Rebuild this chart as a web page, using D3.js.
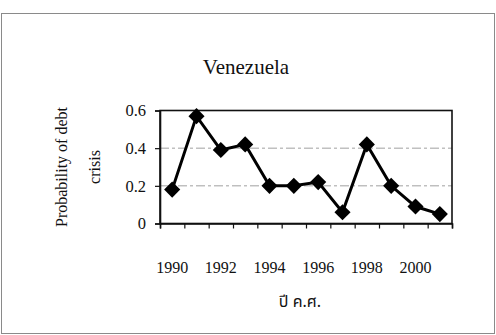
<!DOCTYPE html>
<html>
<head>
<meta charset="utf-8">
<script src="https://cdn.jsdelivr.net/npm/d3@7"></script>
<style>
html,body{margin:0;padding:0;background:#fff;}
svg{display:block;}
</style>
</head>
<body>
<svg id="chart" width="496" height="335"></svg>
<script>
// ---- data ----
const years = [1990, 1991, 1992, 1993, 1994, 1995, 1996, 1997, 1998, 1999, 2000, 2001];
const probability = [0.18, 0.57, 0.39, 0.42, 0.20, 0.20, 0.22, 0.06, 0.42, 0.20, 0.09, 0.05];
const yTicks = [0, 0.2, 0.4, 0.6];
const yGrid = [0.2, 0.4];
const xTickLabels = ["1990", "1992", "1994", "1996", "1998", "2000"];
const title = "Venezuela";
const yTitleLines = ["Probability of debt", "crisis"];
const xTitle = "ปี ค.ศ.";

// ---- layout ----
const svg = d3.select("#chart");
const W = 496, H = 335;
const plot = {left: 160, right: 452, top: 110.5, bottom: 223.5};
const serif = "'Liberation Serif','Times New Roman',Times,serif";
const thai = "'Noto Sans Thai','Tahoma','Noto Sans','DejaVu Sans',sans-serif";

svg.append("rect").attr("width", W).attr("height", H).attr("fill", "#fff");

// outer frame
svg.append("rect").attr("x", 1.5).attr("y", 13.5).attr("width", 493).attr("height", 320)
  .attr("fill", "none").attr("stroke", "#8a8a8a").attr("stroke-width", 1);

// scales
const x = d3.scaleBand().domain(years).range([plot.left, plot.right]).padding(0);
const xEdge = d3.scaleLinear().domain([0, years.length]).range([plot.left, plot.right]);
const y = d3.scaleLinear().domain([0, 0.6]).range([plot.bottom, plot.top]);
const cx = d => x(d) + x.bandwidth() / 2;

// gridlines
svg.append("g").selectAll("line").data(yGrid).join("line")
  .attr("x1", plot.left).attr("x2", plot.right)
  .attr("y1", d => y(d)).attr("y2", d => y(d))
  .attr("stroke", "#a0a0a0").attr("stroke-width", 1)
  .attr("stroke-dasharray", "9,3,3,3");

// plot border
svg.append("rect").attr("x", plot.left).attr("y", plot.top)
  .attr("width", plot.right - plot.left).attr("height", plot.bottom - plot.top)
  .attr("fill", "none").attr("stroke", "#111").attr("stroke-width", 1.6);

// y axis
const yAxis = svg.append("g").attr("transform", `translate(${plot.left},0)`)
  .call(d3.axisLeft(y).tickValues(yTicks).tickSize(5).tickPadding(9)
    .tickFormat(d => d === 0 ? "0" : d.toFixed(1)));
yAxis.select(".domain").attr("stroke", "#111").attr("stroke-width", 1.6);
yAxis.selectAll(".tick line").attr("stroke", "#111").attr("stroke-width", 1.2);
yAxis.selectAll(".tick text").attr("font-family", serif).attr("font-size", 16.5)
  .attr("fill", "#111");

// x axis ticks (category boundaries)
const xAxis = svg.append("g").attr("transform", `translate(0,${plot.bottom})`)
  .call(d3.axisBottom(xEdge).tickValues(d3.range(0, years.length + 1)).tickSize(5).tickFormat(""));
xAxis.select(".domain").attr("stroke", "#111").attr("stroke-width", 1.6);
xAxis.selectAll(".tick line").attr("stroke", "#111").attr("stroke-width", 1.2);

// x tick labels
svg.append("g").selectAll("text").data(xTickLabels).join("text")
  .attr("x", d => cx(+d)).attr("y", 272.5)
  .attr("text-anchor", "middle").attr("font-family", serif).attr("font-size", 16)
  .attr("fill", "#111").text(d => d);

// line
const line = d3.line().x((d, i) => cx(years[i])).y(d => y(d));
svg.append("path").datum(probability).attr("d", line)
  .attr("fill", "none").attr("stroke", "#000").attr("stroke-width", 3)
  .attr("stroke-linejoin", "miter");

// diamond markers
const diamond = d3.symbol().type(d3.symbolSquare).size(130);
svg.append("g").selectAll("path").data(probability).join("path")
  .attr("d", diamond)
  .attr("transform", (d, i) => `translate(${cx(years[i])},${y(d)}) rotate(45)`)
  .attr("fill", "#000");

// title
svg.append("text").attr("x", 246).attr("y", 74).attr("text-anchor", "middle")
  .attr("font-family", serif).attr("font-size", 21).attr("fill", "#111").text(title);

// y title (two lines, rotated)
const yMid = (plot.top + plot.bottom) / 2;
svg.append("text").attr("transform", `translate(67,${yMid}) rotate(-90)`)
  .attr("text-anchor", "middle").attr("font-family", serif).attr("font-size", 16)
  .attr("fill", "#111").text(yTitleLines[0]);
svg.append("text").attr("transform", `translate(100,${yMid}) rotate(-90)`)
  .attr("text-anchor", "middle").attr("font-family", serif).attr("font-size", 16)
  .attr("fill", "#111").text(yTitleLines[1]);

// x title
svg.append("text").attr("x", 300).attr("y", 307).attr("text-anchor", "middle")
  .attr("font-family", thai).attr("font-size", 16).attr("fill", "#111").text(xTitle);
</script>
</body>
</html>
